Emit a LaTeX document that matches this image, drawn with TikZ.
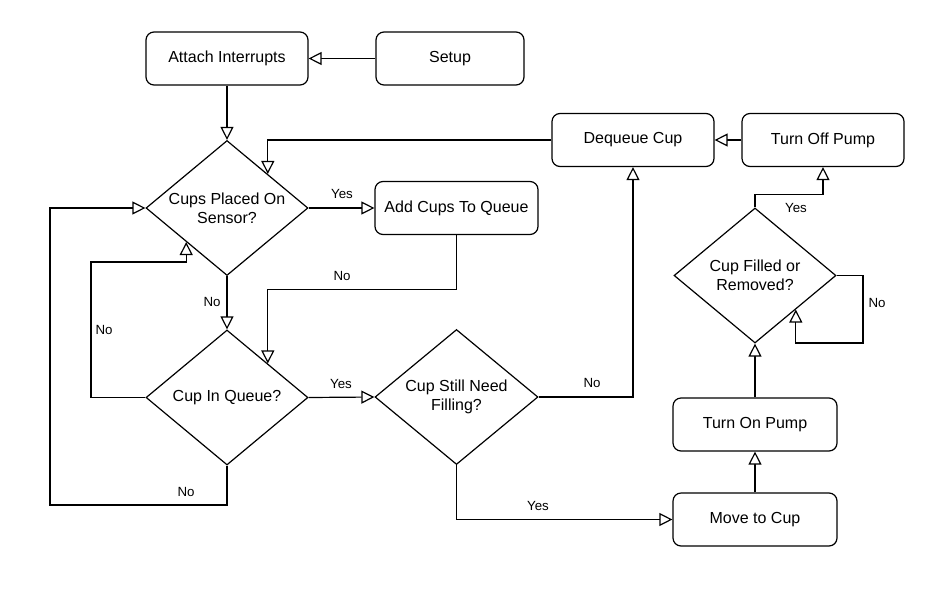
\documentclass[tikz,border=0pt]{standalone}
\usepackage{fontspec}
\setmainfont{Liberation Sans}
\usetikzlibrary{arrows.meta,shapes.geometric}
\begin{document}
\begin{tikzpicture}[x=1pt,y=-1pt,
  every node/.style={inner sep=0pt},
  proc/.style={draw,rounded corners=8pt,line width=1.2pt,minimum width=162pt,minimum height=53pt,font=\fontsize{16}{19}\selectfont},
  dia/.style={draw,diamond,line width=1.2pt,minimum width=162pt,minimum height=135pt},
  diatext/.style={align=center,font=\fontsize{16}{19}\selectfont},
  lbl/.style={font=\fontsize{13.3}{16}\selectfont},
  arr/.style={line width=1.2pt,-{Triangle[open,length=13pt,width=13pt,line width=1.2pt,fill=white]}},
  line join=miter]
\useasboundingbox (0,0) rectangle (936,608);
\node[proc] (attach) at (227,58.5) {Attach Interrupts};
\node[proc,minimum width=148pt] (setup) at (450,58.5) {Setup};
\node[dia] (d1) at (227,208) {};
\node[diatext] at (d1) {Cups Placed On\\Sensor?};
\node[proc,minimum width=163pt] (add) at (456.5,208) {Add Cups To Queue};
\node[proc] (deq) at (633,140) {Dequeue Cup};
\node[proc] (off) at (823,140) {Turn Off Pump};
\node[dia] (d2) at (227,397.5) {};
\node[diatext] at (d2) {Cup In Queue?};
\node[dia,minimum width=163pt] (d3) at (456.5,397) {};
\node[diatext] at (d3) {Cup Still Need\\Filling?};
\node[dia] (d4) at (755,275.5) {};
\node[diatext] at (d4) {Cup Filled or\\Removed?};
\node[proc,minimum width=164pt] (onp) at (755,424.5) {Turn On Pump};
\node[proc,minimum width=164pt] (move) at (755,519.5) {Move to Cup};

\draw[arr] (setup.west) -- (attach.east);
\draw[arr] (attach.south) -- (d1.north);
\draw[arr] (d1.east) -- (add.west);
\draw[arr] (off.west) -- (deq.east);
\draw[arr] (deq.west) -| (d1.north east);
\draw[arr] (add.south) -- ++(0,54) -| (d2.north east);
\draw[arr] (d1.south) -- (d2.north);
\draw[arr] (d2.west) -- (91,397.5) -- (91,262) -| (d1.south west);
\draw[arr] (d2.south) -- (227,505) -- (50,505) |- (d1.west);
\draw[arr] (d2.east) -- (d3.west);
\draw[arr] (d3.east) -| (deq.south);
\draw[arr] (d3.south) |- (move.west);
\draw[arr] (move.north) -- (onp.south);
\draw[arr] (onp.north) -- (d4.south);
\draw[arr] (d4.north) -- ++(0,-13) -| (off.south);
\draw[arr] (d4.east) -- (863,275.5) -- (863,343) -| (d4.south east);

\node[lbl] (l1) at (342,194) {Yes};
\node[lbl] (l2) at (342,276) {No};
\node[lbl] (l3) at (212,302) {No};
\node[lbl] (l4) at (104,330) {No};
\node[lbl] (l5) at (186,492) {No};
\node[lbl] (l6) at (341,384) {Yes};
\node[lbl] (l7) at (592,383) {No};
\node[lbl] (l8) at (538,506) {Yes};
\node[lbl] (l9) at (796,208) {Yes};
\node[lbl] (l10) at (877,303) {No};
\end{tikzpicture}
\end{document}
